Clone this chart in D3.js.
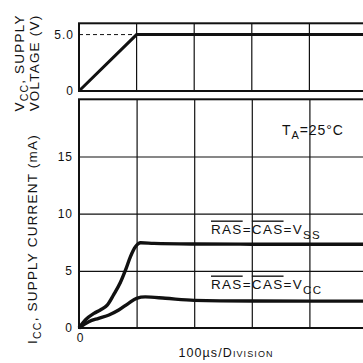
<!DOCTYPE html>
<html>
<head>
<meta charset="utf-8">
<script src="https://cdn.jsdelivr.net/npm/d3@7"></script>
<style>
  body { margin: 0; background: #fff; }
  svg text { font-family: "Liberation Sans", Arial, sans-serif; fill: #111; }
</style>
</head>
<body>
<svg id="chart"></svg>
<script>
// supply voltage (top panel), x in divisions of 100us
const voltX = [0, 1, 5];
const voltV = [0, 5, 5];

// supply current, RAS=CAS=VSS
const vssX = [0, 0.11, 0.26, 0.37, 0.49, 0.60, 0.72, 0.81, 0.89, 0.98, 1.07, 1.3, 2, 3, 4, 5];
const vssI = [0, 0.7, 1.28, 1.57, 2.0, 2.9, 4.0, 5.1, 6.2, 7.1, 7.45, 7.4, 7.35, 7.33, 7.32, 7.32];

// supply current, RAS=CAS=VCC
const vccX = [0, 0.17, 0.34, 0.52, 0.69, 0.86, 1.0, 1.15, 1.5, 2, 3, 4, 5];
const vccI = [0, 0.55, 0.85, 1.14, 1.57, 2.16, 2.6, 2.72, 2.6, 2.42, 2.36, 2.35, 2.35];

const xDivs = [0, 1, 2, 3, 4, 5];
const vTicks = [0, 5];
const vTickLabels = ["0", "5.0"];
const iTicks = [0, 5, 10, 15];
const iTickLabels = ["0", "5", "10", "15"];

const W = 363, H = 363;
const svg = d3.select("#chart").attr("width", W).attr("height", H);

const x = d3.scaleLinear().domain([0, 5]).range([79, 367]);
const yV = d3.scaleLinear().domain([0, 6]).range([91, 23.3]);
const yI = d3.scaleLinear().domain([0, 20]).range([328, 99.3]);

const gridColor = "#111";

// ---- top panel: grid
const gTop = svg.append("g");
gTop.selectAll("line.vg")
  .data(xDivs.slice(1))
  .join("line")
  .attr("x1", d => x(d)).attr("x2", d => x(d))
  .attr("y1", yV(6)).attr("y2", yV(0))
  .attr("stroke", gridColor).attr("stroke-width", 1.2);

gTop.append("rect")
  .attr("x", x(0)).attr("y", yV(6))
  .attr("width", x(5) - x(0)).attr("height", yV(0) - yV(6))
  .attr("fill", "none").attr("stroke", "#111").attr("stroke-width", 2);

// dashed reference at 5.0
gTop.append("line")
  .attr("x1", x(0)).attr("x2", x(1))
  .attr("y1", yV(5)).attr("y2", yV(5))
  .attr("stroke", "#111").attr("stroke-width", 1).attr("stroke-dasharray", "4,3");

gTop.append("path")
  .datum(voltX.map((d, i) => [d, voltV[i]]))
  .attr("fill", "none").attr("stroke", "#111").attr("stroke-width", 3)
  .attr("d", d3.line().x(d => x(d[0])).y(d => yV(d[1])));

gTop.append("g")
  .attr("transform", `translate(${x(0)},0)`)
  .call(d3.axisLeft(yV).tickValues(vTicks).tickSize(0).tickPadding(5)
    .tickFormat((d, i) => vTickLabels[i]))
  .call(g => g.select(".domain").remove())
  .selectAll("text")
  .style("font-size", "12px").style("letter-spacing", "1px")
  .style("font-family", "Liberation Sans, Arial, sans-serif");

// ---- bottom panel
const gBot = svg.append("g");
gBot.append("g")
  .attr("transform", `translate(${x(0)},0)`)
  .call(d3.axisLeft(yI).tickValues([5, 10, 15]).tickSize(-(x(5) - x(0))).tickFormat(""))
  .call(g => g.select(".domain").remove())
  .selectAll("line").attr("stroke", gridColor).attr("stroke-width", 1.2);

gBot.append("g")
  .attr("transform", `translate(0,${yI(0)})`)
  .call(d3.axisBottom(x).tickValues(xDivs.slice(1)).tickSize(-(yI(0) - yI(20))).tickFormat(""))
  .call(g => g.select(".domain").remove())
  .selectAll("line").attr("stroke", gridColor).attr("stroke-width", 1.2);

gBot.append("rect")
  .attr("x", x(0)).attr("y", yI(20))
  .attr("width", x(5) - x(0)).attr("height", yI(0) - yI(20))
  .attr("fill", "none").attr("stroke", "#111").attr("stroke-width", 2);

const lineI = d3.line().curve(d3.curveMonotoneX).x(d => x(d[0])).y(d => yI(d[1]));
gBot.append("path")
  .datum(vssX.map((d, i) => [d, vssI[i]]))
  .attr("fill", "none").attr("stroke", "#111").attr("stroke-width", 3.4)
  .attr("d", lineI);
gBot.append("path")
  .datum(vccX.map((d, i) => [d, vccI[i]]))
  .attr("fill", "none").attr("stroke", "#111").attr("stroke-width", 3.4)
  .attr("d", lineI);

gBot.append("g")
  .attr("transform", `translate(${x(0)},0)`)
  .call(d3.axisLeft(yI).tickValues(iTicks).tickSize(0).tickPadding(6)
    .tickFormat((d, i) => iTickLabels[i]))
  .call(g => g.select(".domain").remove())
  .selectAll("text")
  .style("font-size", "12px").style("letter-spacing", "1px")
  .style("font-family", "Liberation Sans, Arial, sans-serif");

// x axis "0" and unit label
svg.append("text").attr("x", x(0) + 1).attr("y", 342)
  .attr("text-anchor", "middle").style("font-size", "12px").text("0");

const unit = svg.append("text").attr("x", 226).attr("y", 357)
  .attr("text-anchor", "middle").style("font-size", "12.5px").style("letter-spacing", "1.1px");
unit.append("tspan").text("100\u00b5s/D");
unit.append("tspan").style("font-variant", "small-caps").style("font-size", "13px").text("ivision");

// annotations
const ta = svg.append("text").attr("x", 282).attr("y", 135)
  .style("font-size", "14px").style("letter-spacing", "0.9px");
ta.append("tspan").text("T");
ta.append("tspan").attr("dy", 4).style("font-size", "11px").text("A");
ta.append("tspan").attr("dy", -4).text("=25\u00b0C");

function rasLabel(y, sub) {
  const t = svg.append("text").attr("x", 211).attr("y", y)
    .style("font-size", "13.5px").style("letter-spacing", "1.3px");
  t.append("tspan").style("text-decoration", "overline").text("RAS");
  t.append("tspan").text("=");
  t.append("tspan").style("text-decoration", "overline").text("CAS");
  t.append("tspan").text("=V");
  t.append("tspan").attr("dy", 5).style("font-size", "11.5px").text(sub);
}
rasLabel(233.5, "SS");
rasLabel(288.5, "CC");

// rotated y labels
function yLabel(cx, cy, main, sub, rest) {
  const t = svg.append("text")
    .attr("transform", `translate(${cx},${cy}) rotate(-90)`)
    .attr("text-anchor", "middle")
    .style("font-size", "13.5px").style("letter-spacing", "1.2px");
  t.append("tspan").text(main);
  if (sub) {
    t.append("tspan").attr("dy", 4).style("font-size", "10.5px").text(sub);
    t.append("tspan").attr("dy", -4).text(rest);
  }
}
yLabel(24, 63, "V", "CC", ", SUPPLY");
yLabel(39, 63, "VOLTAGE  (V)");
yLabel(37, 239, "I", "CC", ", SUPPLY  CURRENT  (mA)");
</script>
</body>
</html>
